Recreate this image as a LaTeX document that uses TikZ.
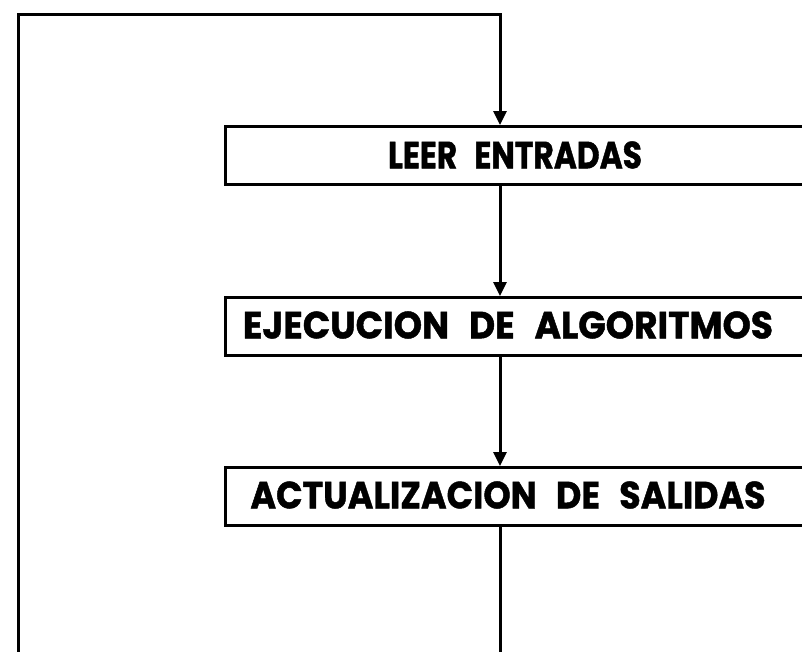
\documentclass[tikz,border=0pt]{standalone}
\usepackage{fontspec}
\newfontfamily\boxfont{Poppins}[FakeBold=1.2]
\usetikzlibrary{arrows.meta}
\tikzset{
  box/.style={draw=black, line width=3pt, fill=none, minimum width=620pt, minimum height=58pt, anchor=north west, inner sep=0pt},
  lbl/.style={inner sep=0pt, anchor=center},
  wire/.style={draw=black, line width=3pt},
  arr/.style={wire, -{Triangle[width=13pt,length=14pt]}},
}
\newcommand{\boxtext}[3]{\resizebox{#1}{#2}{\boxfont\bfseries #3}}
\begin{document}
\begin{tikzpicture}[x=1pt,y=1pt]
\useasboundingbox (0,0) rectangle (802,-651);
\fill[white] (0,0) rectangle (802,-651);
\coordinate (v) at (500,0);
\node[box] (b1) at (224,-125) {};
\node[box] (b2) at (224,-296) {};
\node[box] (b3) at (224,-466) {};
\node[lbl] (t1) at (515,-155) {\boxtext{254pt}{27pt}{LEER\hspace{0.55em}ENTRADAS}};
\node[lbl] (t2) at (508,-325) {\boxtext{530pt}{27pt}{EJECUCION\hspace{0.55em}DE\hspace{0.55em}ALGORITMOS}};
\node[lbl] (t3) at (508,-495) {\boxtext{515pt}{27pt}{ACTUALIZACION\hspace{0.55em}DE\hspace{0.55em}SALIDAS}};
\coordinate (bot) at (500,-660);
\coordinate (bl) at (18,-660);
\coordinate (tl) at (18,-14);
\coordinate (tr) at (500,-14);
\draw[arr] (b1.south -| v) -- (b2.north -| v);
\draw[arr] (b2.south -| v) -- (b3.north -| v);
\draw[arr, line join=miter] (b3.south -| v) -- (bot) -- (bl) -- (tl) -- (tr) -- (b1.north -| v);
\end{tikzpicture}
\end{document}
